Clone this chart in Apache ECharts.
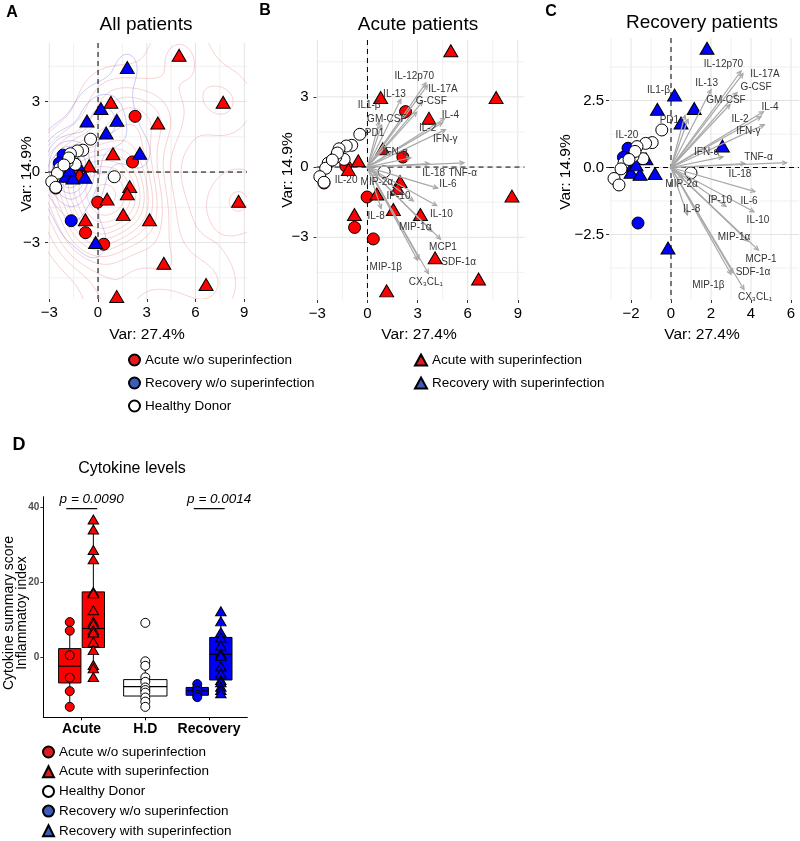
<!DOCTYPE html>
<html><head><meta charset="utf-8">
<script src="https://cdn.jsdelivr.net/npm/echarts@6/dist/echarts.min.js"></script>
<style>html,body{margin:0;padding:0;background:#fff}#c{width:800px;height:841px}</style>
</head><body><div id="c"></div>
<script>
// ================= DATA =================
// PCA scores (Dim1, Dim2)
const acuteNoSI = [[2.28,2.37],[2.12,0.43],[-0.02,-1.28],[-0.77,-2.58],[0.35,-3.07],[-2.6,-0.68],[-1.3,0.05]];
const acuteSI = [[4.99,4.97],[7.7,2.97],[0.79,2.97],[3.68,2.09],[0.92,0.78],[-0.55,0.27],[-1.14,-0.1],[1.95,-0.62],[1.8,-0.92],[0.56,-1.15],[8.65,-1.24],[1.55,-1.81],[3.17,-2.03],[-0.78,-2.03],[4.05,-3.88],[6.65,-4.78],[1.15,-5.29]];
const recoveryNoSI = [[-2.15,0.72],[-2.38,0.38],[-1.65,-2.07],[-2.2,0.05]];
const recoverySI = [[1.8,4.45],[0.18,2.7],[-0.68,2.17],[1.16,2.2],[0.5,1.66],[2.57,0.8],[-1.25,0.33],[-2.0,-0.18],[-1.55,-0.25],[-0.8,-0.22],[-0.15,-3.0],[-1.75,0.1]];
const healthy = [[-0.46,1.4],[-0.94,0.93],[-1.27,0.9],[-1.7,0.78],[-1.4,0.33],[-1.9,0.42],[-1.8,0.6],[-2.35,0.17],[-2.5,-0.05],[-2.85,-0.41],[-2.6,-0.65],[1.0,-0.2],[-2.1,0.3]];

// variable loadings (arrow tips)
const loadingNames = ['IL-12p70','IL-17A','G-CSF','IL-13','GM-CSF','IL1-β','PD1','IL-4','IL-2','IFN-γ','IFN-α','TNF-α','IL-18','MIP-2α','IL-6','IP-10','IL-10','IL-8','MIP-1α','MCP-1','SDF-1α','MIP-1β','CX3CL1'];
const loadings = [[3.5,3.6],[3.6,3.5],[3.3,2.8],[2.0,2.9],[2.95,2.35],[0.7,1.95],[0.85,1.8],[4.62,2.08],[4.5,1.9],[4.67,1.6],[2.6,0.4],[5.78,0.18],[3.7,0.15],[0.6,-0.4],[4.2,-0.9],[2.75,-1.45],[4.15,-1.65],[0.82,-1.77],[3.85,-2.75],[4.37,-3.08],[3.1,-3.93],[3.0,-3.98],[3.65,-4.55]];

// variable label texts and positions
const labelsBText = ['IL-12p70','IL-17A','IL-13','G-CSF','IL1-β','GM-CSF','IL-4','IL-2','IFN-γ','PD1','IFN-α','IL-18','TNF-α','IL-20','MIP-2α','IL-6','IP-10','IL-8','IL-10','MIP-1α','MCP1','SDF-1α','MIP-1β','CX₃CL₁'];
const labelsBPos = [[2.8,3.87],[4.52,3.31],[1.62,3.1],[3.82,2.8],[0.1,2.63],[1.16,2.06],[4.96,2.2],[3.6,1.68],[4.66,1.21],[0.42,1.45],[1.66,0.64],[3.96,-0.26],[5.7,-0.28],[-1.28,-0.57],[0.56,-0.64],[4.82,-0.75],[1.86,-1.24],[0.52,-2.1],[4.42,-2.02],[2.86,-2.56],[4.52,-3.41],[5.46,-4.05],[1.1,-4.27],[3.5,-4.91]];
const labelsCText = ['IL-12p70','IL-17A','G-CSF','IL-13','GM-CSF','IL-4','IL-2','IFN-γ','IFN-α','TNF-α','IL-18','IL1-β','PD1','IL-20','MIP-2α','IP-10','IL-6','IL-8','IL-10','MIP-1α','MCP-1','SDF-1α','MIP-1β','CX₃CL₁'];
const labelsCPos = [[2.62,3.86],[4.7,3.48],[4.25,2.98],[1.78,3.14],[2.75,2.52],[4.95,2.23],[3.45,1.8],[3.87,1.34],[1.78,0.57],[4.37,0.4],[3.45,-0.24],[-0.63,2.89],[-0.08,1.75],[-2.2,1.21],[0.53,-0.62],[2.45,-1.21],[3.9,-1.24],[1.03,-1.55],[4.35,-1.96],[3.15,-2.6],[4.5,-3.42],[4.1,-3.89],[1.87,-4.38],[4.2,-4.82]];

// tick labels
const ticksAB_X = [-3,0,3,6,9];
const ticksAB_Y = [-3,0,3];
const ticksC_X = [-2,0,2,4,6];
const ticksC_Y = [-2.5,0,2.5];
const ticksD_Y = [0,20,40];
const dCategories = ['Acute','H.D','Recovery'];

// panel D: cytokine summary score per group
const dAcuteNoSI = [9.3,7.0,0.4,-5.6,-9.2,-13.4];
const dAcuteSI = [36.8,34.1,28.6,26.1,17.4,17.0,12.5,9.4,8.75,7.15,6.5,4.0,1.8,-2.2,-3.1,-5.4];
const dHealthy = [9.1,-1.2,-2.4,-5.5,-6.7,-8.2,-8.9,-9.6,-10.9,-12.0,-13.4];
const dRecoveryNoSI = [-7.3,-8.3,-9.1,-10.2,-10.8];
const dRecoverySI = [12.2,9.5,6.6,5.2,3.0,0.8,0.3,-2.6,-4.5,-6.2,-6.8,-8.0,-8.9,-9.8];
// box stats [min, q1, median, q3, max]
const boxAcuteNoSI = [-13.4,-7.0,-2.5,2.2,9.3];
const boxAcuteSI = [-5.4,2.5,7.6,17.4,36.8];
const boxHealthy = [-13.4,-10.5,-8.0,-6.1,-1.2];
const boxRecoveryNoSI = [-10.8,-10.3,-9.1,-8.2,-7.3];
const boxRecoverySI = [-9.8,-6.2,0.7,5.2,12.2];
const pTexts = ['p = 0.0090','p = 0.0014'];
const pCategory = [1,3];
const pBarValue = 39.7;

// ================= STYLE / LAYOUT =================
const FONT = 'Liberation Sans, Arial, Helvetica, sans-serif';
const RED = '#FF0000', BLUE = '#0000FF', LRED = '#e31a1c', LBLUE = '#3d5cb8';
const N_ANW = 'Acute w/o superinfection', N_AW = 'Acute with superinfection', N_HD = 'Healthy Donor', N_RNW = 'Recovery w/o superinfection', N_RW = 'Recovery with superinfection';

const grids = [
  {left:48, top:43, width:199, height:256, outerBoundsMode:'none'},
  {left:316.5, top:40, width:208, height:260, outerBoundsMode:'none'},
  {left:609, top:38, width:190, height:262, outerBoundsMode:'none'},
  {left:43.3, top:496.7, width:204, height:220.6, outerBoundsMode:'none'}
];
const ranges = [
  {x:[-3.08,9.17], y:[-5.4,5.49]},
  {x:[-3.05,9.4], y:[-5.68,5.43]},
  {x:[-3.1,6.4], y:[-4.94,4.83]},
  {x:[0.4,3.6], y:[-16.2,42.9]}
];
const minus = v => (v < 0 ? '\u2212' : '') + Math.abs(v);
const minus1 = v => (v < 0 ? '\u2212' : '') + Math.abs(v).toFixed(1);

function xAx(gi, ticks, fmt) {
  return {type:'value', gridIndex:gi, min:ranges[gi].x[0], max:ranges[gi].x[1],
    axisLine:{show:false,onZero:false}, splitLine:{show:false},
    axisTick:{show:true, length:3, customValues:ticks, lineStyle:{color:'#333'}},
    axisLabel:{customValues:ticks, formatter:fmt, fontSize:15, color:'#000', fontFamily:FONT, margin:6}};
}
function yAx(gi, ticks, fmt, margin) {
  return {type:'value', gridIndex:gi, min:ranges[gi].y[0], max:ranges[gi].y[1],
    axisLine:{show:false,onZero:false}, splitLine:{show:false},
    axisTick:{show:true, length:3, customValues:ticks, lineStyle:{color:'#333'}},
    axisLabel:{customValues:ticks, formatter:fmt, fontSize:15, color:'#000', fontFamily:FONT, margin:margin}};
}

// gridline + zero-line helper
function gridData(xMajor, xStep, yMajor, yStep) {
  const d = [];
  const xs0 = xMajor[0], xs1 = xMajor[xMajor.length-1];
  for (let v = xs0; v <= xs1 + 1e-9; v += xStep/2) {
    const maj = xMajor.some(m => Math.abs(m - v) < 1e-6);
    d.push([v, 0, maj ? 1 : 0]);
  }
  const ys0 = yMajor[0] - yStep/2, ys1 = yMajor[yMajor.length-1] + yStep/2;
  for (let v = ys0; v <= ys1 + 1e-9; v += yStep/2) {
    const maj = yMajor.some(m => Math.abs(m - v) < 1e-6);
    d.push([v, 1, maj ? 1 : 0]);
  }
  return d;
}
function gridSeries(gi, data) {
  return {type:'custom', xAxisIndex:gi, yAxisIndex:gi, z:1, silent:true, animation:false, progressive:0, clip:true,
    data: data,
    renderItem: (params, api) => {
      const cs = params.coordSys, v = api.value(0), dir = api.value(1), kind = api.value(2);
      let st;
      if (kind === 2) st = {stroke:'#000', lineWidth:1, lineDash:[5,4]};
      else st = {stroke: kind ? '#e3e3e3' : '#ececec', lineWidth: kind ? 1 : 0.8};
      if (dir === 0) { const px = api.coord([v, 0])[0]; return {type:'line', shape:{x1:px,y1:cs.y,x2:px,y2:cs.y+cs.height}, style:st}; }
      const py = api.coord([0, v])[1]; return {type:'line', shape:{x1:cs.x,y1:py,x2:cs.x+cs.width,y2:py}, style:st};
    }};
}
function zeroSeries(gi) {
  return Object.assign(gridSeries(gi, [[0,0,2],[0,1,2]]), {z:3});
}

function sc(name, data, gi, symbol, color, size, z) {
  return {type:'scatter', name, xAxisIndex:gi, yAxisIndex:gi, data, symbol, symbolSize:size,
    itemStyle:{color, borderColor:'#000', borderWidth:1, opacity:1}, z:z||4, clip:false, silent:true,
    emphasis:{disabled:true}, animation:false};
}
const TRI = [14,12], CIR = 12;

// ---------- KDE contours for panel A ----------
function bwNrd(v) {
  const n = v.length, m = v.reduce((a,b)=>a+b,0)/n;
  const sd = Math.sqrt(v.reduce((a,b)=>a+(b-m)*(b-m),0)/(n-1));
  const s = [...v].sort((a,b)=>a-b);
  const q = p => { const h=(n-1)*p, lo=Math.floor(h); return s[lo]+(h-lo)*(s[Math.min(lo+1,n-1)]-s[lo]); };
  return 4*1.06*Math.min(sd, (q(0.75)-q(0.25))/1.34)*Math.pow(n,-0.2);
}
function kde2d(pts, xs, ys) {
  const hx = bwNrd(pts.map(p=>p[0]))/4, hy = bwNrd(pts.map(p=>p[1]))/4;
  return ys.map(y => xs.map(x => {
    let s = 0;
    for (const p of pts) { const dx=(x-p[0])/hx, dy=(y-p[1])/hy; s += Math.exp(-0.5*(dx*dx+dy*dy)); }
    return s/(pts.length*2*Math.PI*hx*hy);
  }));
}
function niceStep(r) { const e = Math.pow(10, Math.floor(Math.log10(r))); const f = r/e; return (f<1.5?1:f<3?2:f<7?5:10)*e; }
function march(z, xs, ys, lv, ci, out) {
  for (let j=0;j<ys.length-1;j++) for (let i=0;i<xs.length-1;i++) {
    const v0=z[j][i], v1=z[j][i+1], v2=z[j+1][i+1], v3=z[j+1][i];
    const idx=(v0>lv?1:0)|(v1>lv?2:0)|(v2>lv?4:0)|(v3>lv?8:0);
    if (idx===0||idx===15) continue;
    const B=[xs[i]+(lv-v0)/(v1-v0)*(xs[i+1]-xs[i]), ys[j]];
    const R=[xs[i+1], ys[j]+(lv-v1)/(v2-v1)*(ys[j+1]-ys[j])];
    const T=[xs[i]+(lv-v3)/(v2-v3)*(xs[i+1]-xs[i]), ys[j+1]];
    const L=[xs[i], ys[j]+(lv-v0)/(v3-v0)*(ys[j+1]-ys[j])];
    const seg=(a,b)=>out.push([a[0],a[1],b[0],b[1],ci]);
    switch(idx){
      case 1: case 14: seg(L,B); break;
      case 2: case 13: seg(B,R); break;
      case 3: case 12: seg(L,R); break;
      case 4: case 11: seg(R,T); break;
      case 5: seg(L,T); seg(B,R); break;
      case 6: case 9: seg(B,T); break;
      case 7: case 8: seg(L,T); break;
      case 10: seg(L,B); seg(R,T); break;
    }
  }
}
const contourSegs = [];
(function(){
  const nx=100, ny=100, xs=[], ys=[];
  for (let i=0;i<nx;i++) xs.push(ranges[0].x[0]+(ranges[0].x[1]-ranges[0].x[0])*i/(nx-1));
  for (let j=0;j<ny;j++) ys.push(ranges[0].y[0]+(ranges[0].y[1]-ranges[0].y[0])*j/(ny-1));
  [[acuteNoSI.concat(acuteSI),0],[recoveryNoSI.concat(recoverySI),1]].forEach(([pts,ci]) => {
    const z = kde2d(pts, xs, ys);
    let mn=Infinity, mx=-Infinity; z.forEach(r=>r.forEach(v=>{mn=Math.min(mn,v);mx=Math.max(mx,v);}));
    const st = niceStep((mx-mn)/10);
    for (let lv=Math.ceil(mn/st)*st; lv<mx; lv+=st) { if (lv<=mn) continue; march(z, xs, ys, lv, ci, contourSegs); }
  });
})();
const contourColors = ['rgba(240,120,120,0.42)','rgba(110,110,235,0.45)'];

// ---------- biplot arrows & labels ----------
function arrowSeries(gi) {
  return {type:'custom', xAxisIndex:gi, yAxisIndex:gi, z:5, silent:true, animation:false, clip:false,
    data: loadings.map((p,k)=>[p[0],p[1],k]),
    renderItem: (params, api) => {
      const o = api.coord([0,0]), t = api.coord([api.value(0), api.value(1)]);
      const ang = Math.atan2(t[1]-o[1], t[0]-o[0]), L=5, A=Math.PI/7;
      const p1=[t[0]-L*Math.cos(ang-A), t[1]-L*Math.sin(ang-A)], p2=[t[0]-L*Math.cos(ang+A), t[1]-L*Math.sin(ang+A)];
      const st = {stroke:'#a8a8a8', lineWidth:1.2, fill:null};
      return {type:'group', children:[
        {type:'line', shape:{x1:o[0],y1:o[1],x2:t[0],y2:t[1]}, style:st},
        {type:'polyline', shape:{points:[p1,t,p2]}, style:st}]};
    }};
}
function labelSeries(gi, texts, pos) {
  return {type:'custom', xAxisIndex:gi, yAxisIndex:gi, z:6, silent:true, animation:false, clip:false,
    data: pos.map((p,k)=>[p[0],p[1],k]),
    renderItem: (params, api) => {
      const c = api.coord([api.value(0), api.value(1)]);
      return {type:'text', style:{text:texts[api.value(2)], x:c[0], y:c[1], fill:'#333', fontSize:10, fontFamily:FONT,
        align:'center', verticalAlign:'middle', textAlign:'center', textVerticalAlign:'middle'}};
    }};
}

// ---------- panel D ----------
const dPos = [1-0.185, 1+0.185, 2, 3-0.185, 3+0.185];
const dHW = [0.175, 0.175, 0.34, 0.175, 0.175];
const dFill = [RED, RED, '#fff', BLUE, BLUE];
const boxes = [boxAcuteNoSI, boxAcuteSI, boxHealthy, boxRecoveryNoSI, boxRecoverySI];
const boxSeries = {type:'custom', xAxisIndex:3, yAxisIndex:3, z:3, silent:true, animation:false, clip:false,
  data: boxes.map((b,k)=>[dPos[k], b[0], b[1], b[2], b[3], b[4], dHW[k], k]),
  renderItem: (params, api) => {
    const x=api.value(0), lo=api.value(1), q1=api.value(2), md=api.value(3), q3=api.value(4), hi=api.value(5), hw=api.value(6), gi=api.value(7);
    const tl=api.coord([x-hw,q3]), br=api.coord([x+hw,q1]);
    const cx=api.coord([x,md])[0], yLo=api.coord([x,lo])[1], yHi=api.coord([x,hi])[1], yMd=api.coord([x,md])[1];
    const ln={stroke:'#000', lineWidth:1};
    return {type:'group', children:[
      {type:'line', shape:{x1:cx,y1:yHi,x2:cx,y2:tl[1]}, style:ln},
      {type:'line', shape:{x1:cx,y1:br[1],x2:cx,y2:yLo}, style:ln},
      {type:'rect', shape:{x:tl[0],y:tl[1],width:br[0]-tl[0],height:br[1]-tl[1]}, style:{fill:dFill[gi], stroke:'#000', lineWidth:1}},
      {type:'line', shape:{x1:tl[0],y1:yMd,x2:br[0],y2:yMd}, style:{stroke:'#000', lineWidth:1.2}}]};
  }};
const pSeries = {type:'custom', xAxisIndex:3, yAxisIndex:3, z:3, silent:true, animation:false, clip:false,
  data: pCategory.map((c,k)=>[c, pBarValue, k]),
  renderItem: (params, api) => {
    const c=api.value(0), a=api.coord([c-0.24, api.value(1)]), b=api.coord([c+0.245, api.value(1)]);
    return {type:'group', children:[
      {type:'line', shape:{x1:a[0],y1:a[1],x2:b[0],y2:b[1]}, style:{stroke:'#000', lineWidth:1.2}},
      {type:'text', style:{text:pTexts[api.value(2)], x:(a[0]+b[0])/2+10, y:a[1]-9, fill:'#000', fontSize:13.5, fontStyle:'italic', fontFamily:FONT,
        align:'center', verticalAlign:'middle', textAlign:'center', textVerticalAlign:'middle'}}]};
  }};
const dvals = [dAcuteNoSI, dAcuteSI, dHealthy, dRecoveryNoSI, dRecoverySI];
const dPts = dvals.map((arr,k)=>arr.map(v=>[dPos[k], v]));

// ---------- graphic texts ----------
function gtext(t, x, y, fs, extra) {
  return {type:'text', x, y, silent:true, style:Object.assign({text:t, fill:'#000', fontSize:fs, fontFamily:FONT,
    align:'center', verticalAlign:'middle', textAlign:'center', textVerticalAlign:'middle'}, extra||{})};
}
const graphics = [
  gtext('A', 12, 13, 16, {fontWeight:'bold'}),
  gtext('B', 265, 11, 16, {fontWeight:'bold'}),
  gtext('C', 551, 12, 16, {fontWeight:'bold'}),
  gtext('D', 19, 445, 18, {fontWeight:'bold'}),
  gtext('All patients', 146, 25, 19),
  gtext('Acute patients', 418, 25, 19),
  gtext('Recovery patients', 702, 23, 19),
  gtext('Cytokine levels', 132, 469, 16),
  gtext('Var: 27.4%', 147, 335, 15.5),
  gtext('Var: 27.4%', 419, 335, 15.5),
  gtext('Var: 27.4%', 702, 335, 15.5),
  Object.assign(gtext('Var: 14.9%', 26.5, 174, 15.5), {rotation:Math.PI/2}),
  Object.assign(gtext('Var: 14.9%', 288, 170, 15.5), {rotation:Math.PI/2}),
  Object.assign(gtext('Var: 14.9%', 566, 172, 15.5), {rotation:Math.PI/2}),
  Object.assign(gtext('Cytokine summary score\nInflammatoy index', 16, 613, 14, {lineHeight:13}), {rotation:Math.PI/2})
];

const legText = {fontSize:13.5, color:'#000', fontFamily:FONT, lineHeight:16};
const legends = [
  {left:128, top:352, padding:0, orient:'vertical', itemGap:7, itemWidth:11, itemHeight:11, selectedMode:false, textStyle:legText,
    data:[{name:N_ANW, itemStyle:{color:LRED}}, {name:N_RNW, itemStyle:{color:LBLUE}}, {name:N_HD, itemStyle:{color:'#fff'}}]},
  {left:414, top:352, padding:0, orient:'vertical', itemGap:7, itemWidth:12, itemHeight:11, selectedMode:false, textStyle:legText,
    data:[{name:N_AW, itemStyle:{color:LRED}}, {name:N_RW, itemStyle:{color:LBLUE}}]},
  {left:42, top:744, padding:0, height:100, orient:'vertical', itemGap:3.7, itemWidth:11, itemHeight:11, selectedMode:false, textStyle:legText,
    data:[{name:N_ANW, itemStyle:{color:LRED}}, {name:N_AW, itemStyle:{color:LRED}}, {name:N_HD, itemStyle:{color:'#fff'}}, {name:N_RNW, itemStyle:{color:LBLUE}}, {name:N_RW, itemStyle:{color:LBLUE}}]}
];

const option = {
  animation:false,
  backgroundColor:'#fff',
  textStyle:{fontFamily:FONT},
  grid: grids,
  legend: legends,
  graphic: graphics,
  xAxis: [
    xAx(0, ticksAB_X, minus), xAx(1, ticksAB_X, minus), xAx(2, ticksC_X, minus),
    {type:'value', gridIndex:3, min:0.4, max:3.6,
      axisLine:{show:true, onZero:false, lineStyle:{color:'#000', width:1}}, splitLine:{show:false},
      axisTick:{show:true, length:3, customValues:[1,2,3], lineStyle:{color:'#000'}},
      axisLabel:{customValues:[1,2,3], formatter:v=>dCategories[Math.round(v)-1], fontSize:14, fontWeight:'bold', color:'#000', fontFamily:FONT, margin:5}}
  ],
  yAxis: [
    yAx(0, ticksAB_Y, minus, 8), yAx(1, ticksAB_Y, minus, 8), yAx(2, ticksC_Y, minus1, 5),
    {type:'value', gridIndex:3, min:-16.2, max:42.9,
      axisLine:{show:true, onZero:false, lineStyle:{color:'#000', width:1}}, splitLine:{show:false},
      axisTick:{show:true, length:3, customValues:ticksD_Y, lineStyle:{color:'#333'}},
      axisLabel:{customValues:ticksD_Y, fontSize:10, fontWeight:'bold', color:'#4d4d4d', fontFamily:FONT, margin:4}}
  ],
  series: [
    // Panel A
    gridSeries(0, gridData(ticksAB_X, 3, ticksAB_Y, 3)),
    {type:'custom', xAxisIndex:0, yAxisIndex:0, z:2, silent:true, animation:false, clip:true, progressive:0,
      data: contourSegs,
      renderItem: (params, api) => {
        const a=api.coord([api.value(0),api.value(1)]), b=api.coord([api.value(2),api.value(3)]);
        return {type:'line', shape:{x1:a[0],y1:a[1],x2:b[0],y2:b[1]}, style:{stroke:contourColors[api.value(4)], lineWidth:0.8}};
      }},
    zeroSeries(0),
    sc(N_ANW, acuteNoSI, 0, 'circle', RED, CIR),
    sc(N_AW, acuteSI, 0, 'triangle', RED, TRI),
    sc(N_RNW, recoveryNoSI, 0, 'circle', BLUE, CIR),
    sc(N_RW, recoverySI, 0, 'triangle', BLUE, TRI),
    sc(N_HD, healthy, 0, 'circle', '#fff', CIR),
    // Panel B
    gridSeries(1, gridData(ticksAB_X, 3, ticksAB_Y, 3)),
    zeroSeries(1),
    sc(N_ANW, acuteNoSI, 1, 'circle', RED, CIR),
    sc(N_AW, acuteSI, 1, 'triangle', RED, TRI),
    sc(N_HD, healthy, 1, 'circle', '#fff', CIR),
    arrowSeries(1),
    labelSeries(1, labelsBText, labelsBPos),
    // Panel C
    gridSeries(2, gridData([-2,0,2,4,6], 2, ticksC_Y, 2.5).concat([[-3,0,0]])),
    zeroSeries(2),
    sc(N_RNW, recoveryNoSI, 2, 'circle', BLUE, CIR),
    sc(N_RW, recoverySI, 2, 'triangle', BLUE, TRI),
    sc(N_HD, healthy, 2, 'circle', '#fff', CIR),
    arrowSeries(2),
    labelSeries(2, labelsCText, labelsCPos),
    // Panel D
    boxSeries,
    pSeries,
    sc(N_ANW, dPts[0], 3, 'circle', RED, 9, 5),
    sc(N_AW, dPts[1], 3, 'triangle', RED, [10.5,9], 5),
    sc(N_HD, dPts[2], 3, 'circle', '#fff', 9, 5),
    sc(N_RNW, dPts[3], 3, 'circle', BLUE, 9, 5),
    sc(N_RW, dPts[4], 3, 'triangle', BLUE, [10.5,9], 5)
  ]
};
const chart = echarts.init(document.getElementById('c'), null, {renderer:'canvas'});
chart.setOption(option);
</script>
</body></html>
